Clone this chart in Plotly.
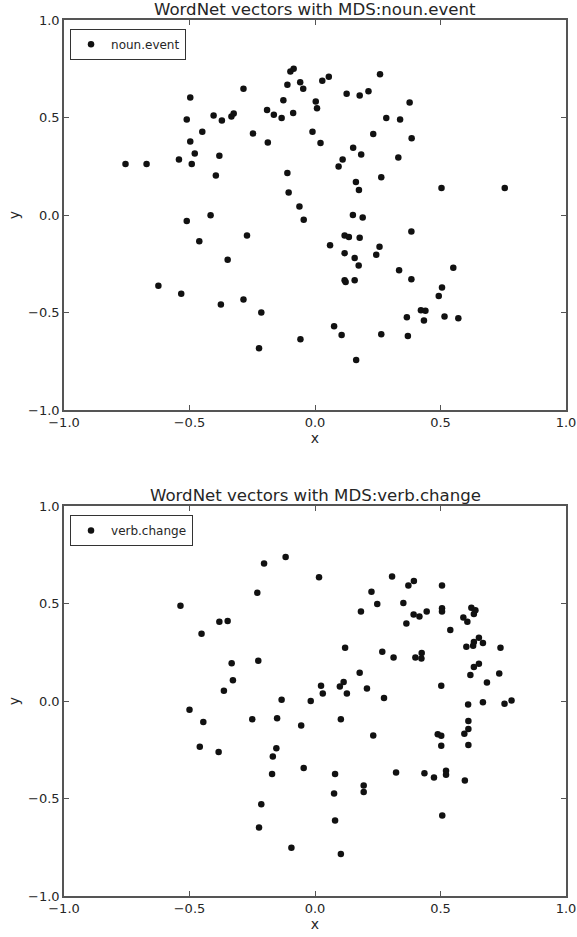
import plotly.graph_objects as go
from plotly.subplots import make_subplots

# ---- data: noun.event ----
noun_x = [-0.755, -0.671, -0.497, -0.511, -0.404, -0.371, -0.333, -0.324, -0.449, -0.497,
          -0.479, -0.491, -0.542, -0.381, -0.395, -0.285, -0.247, -0.191, -0.164, -0.188,
          -0.133, -0.126, -0.110, -0.098, -0.085, -0.059, -0.047, -0.087, -0.110, -0.105,
          -0.062, -0.045, -0.010, 0.003, 0.008, 0.022, 0.029, 0.055, 0.126, 0.178,
          0.213, 0.259, 0.377, 0.284, 0.339, 0.232, 0.385, 0.152, 0.184, 0.110,
          0.094, 0.332, 0.264, 0.163, 0.175, 0.504, 0.756, 0.151, 0.190, -0.511,
          -0.416, -0.461, -0.271, -0.348, -0.624, -0.533, -0.375, -0.285, -0.214, -0.223,
          -0.058, 0.384, 0.118, 0.135, 0.178, 0.060, 0.257, 0.244, 0.118, 0.158,
          0.174, 0.335, 0.551, 0.384, 0.118, 0.122, 0.158, 0.506, 0.493, 0.422,
          0.440, 0.366, 0.434, 0.516, 0.571, 0.076, 0.106, 0.264, 0.370, 0.164]
noun_y = [0.261, 0.261, 0.603, 0.490, 0.510, 0.485, 0.505, 0.521, 0.427, 0.377,
          0.315, 0.261, 0.285, 0.304, 0.203, 0.647, 0.418, 0.539, 0.514, 0.372,
          0.498, 0.589, 0.668, 0.736, 0.750, 0.681, 0.647, 0.523, 0.215, 0.115,
          0.044, -0.024, 0.427, 0.582, 0.548, 0.369, 0.688, 0.709, 0.622, 0.613,
          0.635, 0.722, 0.577, 0.497, 0.490, 0.415, 0.394, 0.345, 0.310, 0.285,
          0.249, 0.295, 0.194, 0.169, 0.128, 0.139, 0.139, 0.000, -0.013, -0.031,
          -0.001, -0.134, -0.105, -0.230, -0.363, -0.404, -0.459, -0.433, -0.500, -0.683,
          -0.637, -0.085, -0.105, -0.113, -0.117, -0.155, -0.163, -0.204, -0.196, -0.221,
          -0.259, -0.283, -0.271, -0.329, -0.334, -0.343, -0.334, -0.372, -0.416, -0.488,
          -0.491, -0.524, -0.541, -0.520, -0.529, -0.570, -0.616, -0.611, -0.620, -0.744]

# ---- data: verb.change ----
verb_x = [-0.536, -0.203, -0.117, -0.230, -0.452, -0.381, -0.348, -0.332, -0.226, -0.327,
          -0.363, -0.133, -0.017, -0.500, 0.016, 0.307, 0.372, 0.394, 0.506, 0.225,
          0.248, 0.352, 0.183, 0.393, 0.416, 0.445, 0.506, 0.506, 0.364, 0.623,
          0.639, 0.633, 0.591, 0.607, 0.539, 0.120, 0.268, 0.313, 0.400, 0.425,
          0.424, 0.603, 0.630, 0.633, 0.653, 0.669, 0.739, 0.633, 0.653, 0.619,
          0.734, 0.685, 0.178, 0.024, 0.031, 0.099, 0.114, 0.127, 0.207, 0.503,
          0.275, 0.610, 0.669, 0.755, 0.783, -0.445, -0.250, -0.151, -0.055, -0.459,
          -0.384, -0.154, -0.168, -0.171, -0.045, -0.214, -0.223, -0.094, 0.103, 0.232,
          0.489, 0.503, 0.503, 0.595, 0.611, 0.611, 0.611, 0.080, 0.323, 0.436,
          0.474, 0.522, 0.522, 0.597, 0.194, 0.194, 0.076, 0.507, 0.080, 0.103]
verb_y = [0.488, 0.705, 0.738, 0.555, 0.345, 0.406, 0.410, 0.194, 0.206, 0.107,
          0.052, 0.006, 0.000, -0.045, 0.635, 0.638, 0.592, 0.615, 0.592, 0.560,
          0.497, 0.502, 0.459, 0.444, 0.433, 0.459, 0.476, 0.459, 0.397, 0.478,
          0.466, 0.446, 0.428, 0.406, 0.364, 0.273, 0.252, 0.223, 0.223, 0.246,
          0.218, 0.278, 0.283, 0.302, 0.324, 0.298, 0.273, 0.174, 0.191, 0.133,
          0.141, 0.095, 0.145, 0.078, 0.038, 0.074, 0.098, 0.038, 0.064, 0.078,
          0.015, -0.018, -0.006, -0.014, 0.003, -0.108, -0.093, -0.088, -0.126, -0.235,
          -0.262, -0.242, -0.285, -0.375, -0.343, -0.529, -0.649, -0.753, -0.093, -0.177,
          -0.170, -0.178, -0.230, -0.168, -0.144, -0.102, -0.226, -0.375, -0.367, -0.370,
          -0.392, -0.358, -0.378, -0.408, -0.433, -0.467, -0.474, -0.587, -0.613, -0.785]

titles = ["WordNet vectors with MDS:noun.event", "WordNet vectors with MDS:verb.change"]
names = ["noun.event", "verb.change"]
tick_vals = [-1.0, -0.5, 0.0, 0.5, 1.0]
tick_text = ["\u22121.0", "\u22120.5", "0.0", "0.5", "1.0"]

FONT = "DejaVu Sans"
DOT = "#111111"
AX = "#555555"
TXT = "#262626"

fig = make_subplots(rows=2, cols=1, vertical_spacing=0.1096)

fig.add_trace(go.Scatter(x=noun_x, y=noun_y, mode="markers", name=names[0], showlegend=True,
                         marker=dict(size=6.5, color=DOT), legend="legend"), row=1, col=1)
fig.add_trace(go.Scatter(x=verb_x, y=verb_y, mode="markers", name=names[1], showlegend=True,
                         marker=dict(size=6.5, color=DOT), legend="legend2"), row=2, col=1)

axis_common = dict(range=[-1, 1], tickvals=tick_vals, ticktext=tick_text,
                   ticks="inside", ticklen=5, tickwidth=1, tickcolor=AX,
                   showline=True, linecolor=AX, linewidth=1.5, mirror="allticks",
                   showgrid=False, zeroline=False, automargin=False,
                   tickfont=dict(family=FONT, size=13, color=TXT))

for r in (1, 2):
    fig.update_xaxes(**axis_common,
                     title=dict(text="x", font=dict(family=FONT, size=14, color=TXT), standoff=2),
                     row=r, col=1)
    fig.update_yaxes(**axis_common,
                     title=dict(text="y", font=dict(family=FONT, size=14, color=TXT), standoff=5),
                     row=r, col=1)

fig.layout.yaxis.domain = [0.5548, 1.0]
fig.layout.yaxis2.domain = [0.0, 0.4452]

for i, t in enumerate(titles):
    ytop = 1.0 if i == 0 else 0.4452
    fig.add_annotation(text=t, xref="paper", yref="paper", x=0.5, y=ytop, yshift=11,
                       xanchor="center", yanchor="middle", showarrow=False,
                       font=dict(family=FONT, size=16.6, color=TXT))

leg = dict(bordercolor="#333", borderwidth=1, bgcolor="white",
           font=dict(family=FONT, size=12, color=TXT),
           xanchor="left", yanchor="top", itemwidth=30, tracegroupgap=0)
fig.update_layout(
    width=577, height=937,
    margin=dict(l=64, r=11, t=20, b=41),
    paper_bgcolor="white", plot_bgcolor="white",
    showlegend=True,
    legend=dict(**leg, x=0.012, y=0.99),
    legend2=dict(**leg, x=0.012, y=0.435),
    font=dict(family=FONT),
)

fig.write_html("out.html", config={"displayModeBar": False},
               post_script="document.body.style.margin='0';document.body.style.overflow='hidden';")
